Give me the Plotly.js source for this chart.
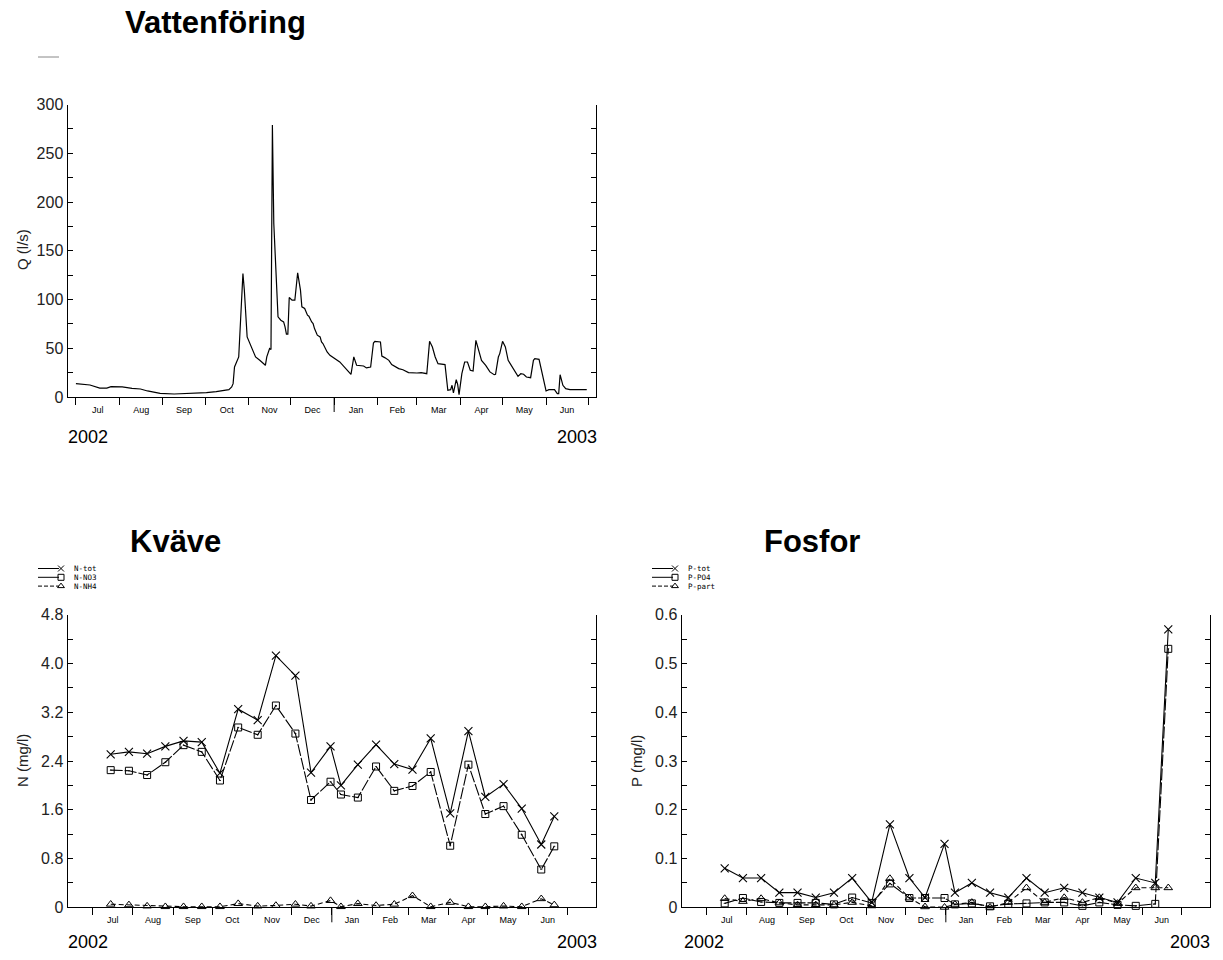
<!DOCTYPE html>
<html><head><meta charset="utf-8">
<script src="https://cdn.plot.ly/plotly-3.0.1.min.js"></script>
<style>html,body{margin:0;padding:0;background:#fff}#chart{width:1223px;height:960px}</style>
</head><body><div id="chart"></div>
<script>
// ---------- data ----------
const qDate = ['2002-07-01','2002-07-11','2002-07-18','2002-07-23','2002-07-26','2002-08-03','2002-08-10','2002-08-16','2002-08-21','2002-08-30',
'2002-09-09','2002-09-23','2002-10-02','2002-10-09','2002-10-14','2002-10-18','2002-10-20','2002-10-21','2002-10-22','2002-10-24',
'2002-10-25','2002-10-28','2002-10-29','2002-10-31','2002-11-01','2002-11-03','2002-11-06','2002-11-09','2002-11-13','2002-11-14',
'2002-11-16','2002-11-17','2002-11-18','2002-11-19','2002-11-21','2002-11-22','2002-11-24','2002-11-26','2002-11-27','2002-11-28',
'2002-11-29','2002-11-30','2002-12-02','2002-12-04','2002-12-06','2002-12-08','2002-12-09','2002-12-11','2002-12-13','2002-12-14',
'2002-12-16','2002-12-17','2002-12-18','2002-12-20','2002-12-22','2002-12-23','2002-12-24','2002-12-27','2002-12-29','2003-01-05',
'2003-01-13','2003-01-15','2003-01-17','2003-01-22','2003-01-24','2003-01-27','2003-01-29','2003-01-30','2003-02-03','2003-02-04',
'2003-02-06','2003-02-09','2003-02-11','2003-02-16','2003-02-19','2003-02-23','2003-03-01','2003-03-04','2003-03-08','2003-03-10',
'2003-03-12','2003-03-14','2003-03-16','2003-03-18','2003-03-21','2003-03-23','2003-03-25','2003-03-26','2003-03-27','2003-03-29',
'2003-03-30','2003-03-31','2003-04-02','2003-04-04','2003-04-06','2003-04-08','2003-04-10','2003-04-12','2003-04-14','2003-04-16',
'2003-04-19','2003-04-20','2003-04-22','2003-04-25','2003-04-26','2003-04-28','2003-04-29','2003-05-01','2003-05-03','2003-05-05',
'2003-05-08','2003-05-11','2003-05-12','2003-05-14','2003-05-16','2003-05-18','2003-05-21','2003-05-23','2003-05-24','2003-05-27',
'2003-05-29','2003-05-30','2003-06-01','2003-06-03','2003-06-07','2003-06-09','2003-06-10','2003-06-11','2003-06-13','2003-06-15',
'2003-06-18','2003-06-30'];
const qFlow = [13.7,12.3,9.2,9.2,10.6,10.3,8.9,8.2,6.2,3.8,
3.1,3.8,4.5,5.5,6.2,7.5,10.3,13.7,30.8,37.7,
41.1,126.7,109.6,61.6,58.2,49.7,41.1,37.7,32.5,41.1,
49.7,48.6,279,178,109.6,82.2,78.8,77,71.9,64.4,
64.4,102,99.3,99.3,127.4,109.6,92.5,90.8,83.9,82.9,
77,75.4,70.2,63.4,61.6,56.5,54.8,46.2,42.8,36,
23.3,41.1,32.5,31.8,29.8,30.8,55.4,57.1,56.4,42,
40.4,37.6,33.2,29.1,28,25,24.6,25,23.9,57.1,
51.3,41,34.2,33.5,33.2,6.8,7.5,12,4.1,17.8,
13,2.4,23.9,35.9,35.9,27.4,26.7,58.1,47.9,37.6,
32.5,30.1,25.7,22.9,23.3,41,44.5,57.1,51.3,37.6,
30.1,23.3,21.2,23.9,23.3,20.5,19.8,37.6,39.3,38.6,
25.7,17.8,6.2,7.5,7.5,3.4,3.4,22.9,12,8.6,
7.5,7.5];

const sampleDate = ['2002-07-15','2002-07-29','2002-08-12','2002-08-26','2002-09-09','2002-09-23','2002-10-07','2002-10-21',
'2002-11-05','2002-11-19','2002-12-04','2002-12-16','2002-12-31','2003-01-08','2003-01-21','2003-02-04','2003-02-18',
'2003-03-04','2003-03-18','2003-04-02','2003-04-16','2003-04-29','2003-05-13','2003-05-27','2003-06-11','2003-06-21'];
const nTot = [2.51,2.55,2.52,2.64,2.73,2.71,2.20,3.25,3.07,4.13,3.80,2.21,2.64,2.00,2.34,2.67,2.35,2.26,2.77,1.54,2.89,1.81,2.02,1.62,1.03,1.49];
const nNO3 = [2.25,2.24,2.17,2.38,2.66,2.55,2.08,2.95,2.83,3.31,2.85,1.76,2.06,1.85,1.80,2.31,1.91,1.99,2.22,1.01,2.34,1.53,1.66,1.19,0.62,1.00];
const nNH4 = [0.05,0.04,0.02,0.01,0.01,0.01,0.01,0.06,0.02,0.03,0.05,0.02,0.11,0.01,0.06,0.03,0.05,0.19,0.01,0.08,0.01,0.01,0.02,0.01,0.14,0.04];
const pTot = [0.08,0.06,0.06,0.03,0.03,0.02,0.03,0.06,0.01,0.17,0.06,0.02,0.13,0.03,0.05,0.03,0.02,0.06,0.03,0.04,0.03,0.02,0.01,0.06,0.05,0.57];
const pPO4 = [0.008,0.019,0.011,0.009,0.009,0.009,0.006,0.020,0.009,0.049,0.019,0.019,0.019,0.006,0.008,0.002,0.007,0.008,0.010,0.010,0.003,0.010,0.005,0.003,0.007,0.53];
const pPart = [0.018,0.012,0.018,0.009,0.005,0.005,0.005,0.010,0.003,0.059,0.019,0.001,0.000,0.006,0.010,0.000,0.010,0.040,0.010,0.020,0.010,0.020,0.008,0.040,0.040,0.040];

const monthStart = ['2002-07-01','2002-08-01','2002-09-01','2002-10-01','2002-11-01','2002-12-01','2003-01-01',
'2003-02-01','2003-03-01','2003-04-01','2003-05-01','2003-06-01','2003-07-01'];
const monthLabel = ['Jul','Aug','Sep','Oct','Nov','Dec','Jan','Feb','Mar','Apr','May','Jun'];
const qTicks = [0,50,100,150,200,250,300];
const qTickText = ['0','50','100','150','200','250','300'];
const nTicks = [0,0.8,1.6,2.4,3.2,4.0,4.8];
const nTickText = ['0','0.8','1.6','2.4','3.2','4.0','4.8'];
const pTicks = [0,0.1,0.2,0.3,0.4,0.5,0.6];
const pTickText = ['0','0.1','0.2','0.3','0.4','0.5','0.6'];

// ---------- layout helpers ----------
const W = 1223, H = 960;
function toMs(s){const p=s.split('-').map(Number);return Date.UTC(p[0],p[1]-1,p[2]);}
function fmt(ms){return new Date(ms).toISOString().replace('T',' ').slice(0,19);}
const monthMid = monthLabel.map((_,i)=>fmt((toMs(monthStart[i])+toMs(monthStart[i+1]))/2));
const px = x => x / W;
const py = y => 1 - y / H;

const SANS = 'Arial, Liberation Sans, sans-serif';
function xCfg(x0, x1, range, anchor){
  return {domain:[px(x0),px(x1)], range:range, type:'date', anchor:anchor,
    showline:true, linecolor:'#000', linewidth:1, mirror:false, zeroline:false, showgrid:false,
    tickmode:'array', tickvals:monthMid, ticktext:monthLabel,
    ticks:'outside', ticklen:1, tickcolor:'rgba(0,0,0,0)', ticklabelstandoff:3,
    tickfont:{family:SANS, size:9, color:'#000'},
    minor:{tickmode:'array', tickvals:monthStart, ticks:'outside', ticklen:7, tickcolor:'#000', tickwidth:1, showgrid:false},
    fixedrange:true};
}
function yCfg(yTop, yBot, range, tv, tt, minorD, anchor){
  return {domain:[py(yBot),py(yTop)], range:range, anchor:anchor,
    showline:true, linecolor:'#000', linewidth:1, mirror:'ticks', zeroline:false, showgrid:false,
    tickmode:'array', tickvals:tv, ticktext:tt, ticks:'inside', ticklen:5, tickcolor:'#000',
    tickfont:{family:SANS, size:16, color:'#222'},
    minor:{tickmode:'linear', tick0:0, dtick:minorD, ticks:'inside', ticklen:5, tickcolor:'#000', showgrid:false},
    fixedrange:true};
}

const topRange = ['2002-06-25 00:00','2003-07-06 14:00'];
const botRange = ['2002-06-11 19:00','2003-07-23 02:00'];

const line = {color:'#000', width:1.1};
const mX = {symbol:'x-thin-open', size:8, color:'#000', line:{color:'#000', width:1.1}};
const mS = {symbol:'square-open-dot', size:7, color:'#000', line:{color:'#000', width:1}};
const mT = {symbol:'triangle-up-open', size:7.5, color:'#000', line:{color:'#000', width:1}};
const dashNO3 = '12px,2px';
const dashNH4 = '5px,3px';

const traces = [
  {x:qDate, y:qFlow, type:'scatter', mode:'lines', line:{color:'#000', width:1.2}, xaxis:'x', yaxis:'y', name:'Q', hoverinfo:'x+y'},
  {x:sampleDate, y:nTot, mode:'lines+markers', line:line, marker:mX, xaxis:'x2', yaxis:'y2', name:'N-tot'},
  {x:sampleDate, y:nNO3, mode:'lines+markers', line:Object.assign({dash:dashNO3},line), marker:mS, xaxis:'x2', yaxis:'y2', name:'N-NO3'},
  {x:sampleDate, y:nNH4, mode:'lines+markers', line:Object.assign({dash:dashNH4},line), marker:mT, xaxis:'x2', yaxis:'y2', name:'N-NH4'},
  {x:sampleDate, y:pTot, mode:'lines+markers', line:line, marker:mX, xaxis:'x3', yaxis:'y3', name:'P-tot'},
  {x:sampleDate, y:pPO4, mode:'lines+markers', line:Object.assign({dash:dashNO3},line), marker:mS, xaxis:'x3', yaxis:'y3', name:'P-PO4'},
  {x:sampleDate, y:pPart, mode:'lines+markers', line:Object.assign({dash:dashNH4},line), marker:mT, xaxis:'x3', yaxis:'y3', name:'P-part'}
];
traces.forEach(t=>{t.showlegend=false; t.cliponaxis=false;});

// custom legends (drawn on a pixel overlay axis)
function legendEntry(x0, y, dash, symbol, color){
  traces.push({x:[x0, x0+21], y:[y,y], mode:'lines', line:{color:color||'#000', width:1, dash:dash||'solid'},
    xaxis:'x4', yaxis:'y4', showlegend:false, hoverinfo:'skip', cliponaxis:false});
  if(symbol){
    traces.push({x:[x0+23], y:[y], mode:'markers', marker:{symbol:symbol, size:6, color:'#000', line:{color:'#000', width:1}},
      xaxis:'x4', yaxis:'y4', showlegend:false, hoverinfo:'skip', cliponaxis:false});
  }
}
const legRows = [568.5, 577.3, 586.1];
legendEntry(38, 57, 'solid', null, '#888');
legendEntry(38, legRows[0], 'solid', 'x-thin-open');
legendEntry(38, legRows[1], 'solid', 'square-open');
legendEntry(38, legRows[2], '4px,2px', 'triangle-up-open');
legendEntry(652, legRows[0], 'solid', 'x-thin-open');
legendEntry(652, legRows[1], 'solid', 'square-open');
legendEntry(652, legRows[2], '4px,2px', 'triangle-up-open');

const ann = [];
function txt(x, y, text, opts){
  ann.push(Object.assign({x:x, y:y, xref:'x4', yref:'y4', text:text, showarrow:false,
    xanchor:'left', yanchor:'middle', font:{family:SANS, size:12, color:'#000'}}, opts||{}));
}
const titleFont = {family:SANS, size:31, color:'#000', weight:'bold'};
txt(123, 22.5, '<b>Vattenföring</b>', {font:titleFont});
txt(128, 541.7, '<b>Kväve</b>', {font:titleFont});
txt(762, 541.7, '<b>Fosfor</b>', {font:titleFont});
const legFont = {family:'DejaVu Sans Mono, Liberation Mono, monospace', size:7.5, color:'#000'};
['N-tot','N-NO3','N-NH4'].forEach((t,i)=>txt(71.5, legRows[i], t, {font:legFont}));
['P-tot','P-PO4','P-part'].forEach((t,i)=>txt(685.5, legRows[i], t, {font:legFont}));
const axFont = {family:SANS, size:15, color:'#222'};
txt(22, 250, 'Q (l/s)', {textangle:-90, xanchor:'center', yanchor:'middle', font:axFont});
txt(22, 761, 'N (mg/l)', {textangle:-90, xanchor:'center', yanchor:'middle', font:axFont});
txt(636, 761, 'P (mg/l)', {textangle:-90, xanchor:'center', yanchor:'middle', font:axFont});
const yrFont = {family:SANS, size:18, color:'#000'};
txt(66, 437, '2002', {font:yrFont});
txt(599, 437, '2003', {font:yrFont, xanchor:'right'});
txt(66, 942, '2002', {font:yrFont});
txt(599, 942, '2003', {font:yrFont, xanchor:'right'});
txt(682, 942, '2002', {font:yrFont});
txt(1212, 942, '2003', {font:yrFont, xanchor:'right'});

// long year-boundary ticks
function yearTick(xref, yBot){
  return {type:'line', xref:xref, yref:'paper', x0:'2003-01-01', x1:'2003-01-01', y0:py(yBot), y1:py(yBot+15),
    line:{color:'#000', width:1}};
}

const layout = {
  width:W, height:H, margin:{l:0,r:0,t:0,b:0}, paper_bgcolor:'#fff', plot_bgcolor:'rgba(0,0,0,0)',
  showlegend:false, hovermode:false,
  xaxis: xCfg(67.5, 596, topRange, 'y'),
  yaxis: yCfg(104.5, 397, [0,300], qTicks, qTickText, 25, 'x'),
  xaxis2: xCfg(67.5, 596, botRange, 'y2'),
  yaxis2: yCfg(614.7, 907.3, [0,4.8], nTicks, nTickText, 0.4, 'x2'),
  xaxis3: xCfg(681.5, 1210, botRange, 'y3'),
  yaxis3: yCfg(614.7, 907.3, [0,0.6], pTicks, pTickText, 0.05, 'x3'),
  xaxis4: {domain:[0,1], range:[0,W], visible:false, fixedrange:true, anchor:'y4'},
  yaxis4: {domain:[0,1], range:[H,0], visible:false, fixedrange:true, anchor:'x4'},
  annotations: ann,
  shapes: [yearTick('x',397), yearTick('x2',907.3), yearTick('x3',907.3)]
};

Plotly.newPlot('chart', traces, layout, {staticPlot:true, displayModeBar:false});
</script></body></html>
